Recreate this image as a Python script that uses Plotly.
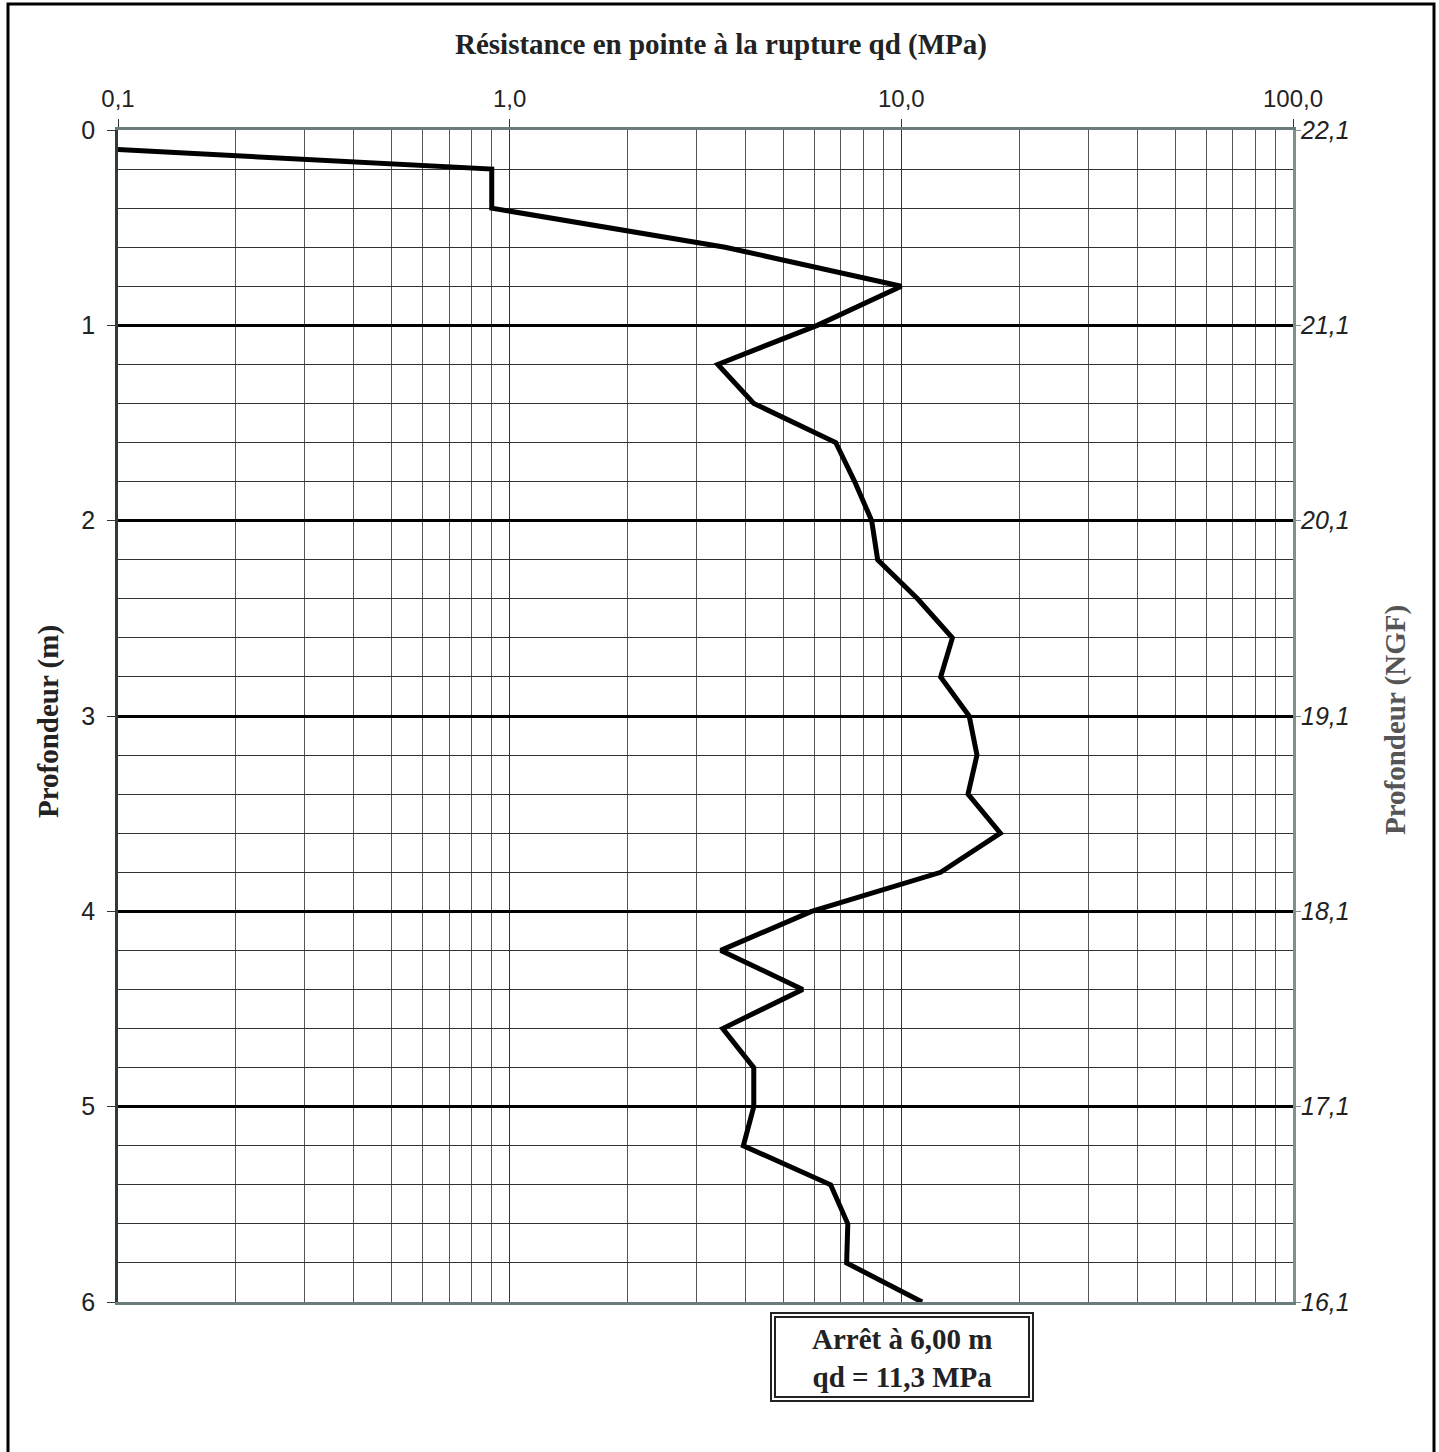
import plotly.graph_objects as go

# ---- data ----
depth_m = [0.1, 0.2, 0.4, 0.6, 0.8, 1.0, 1.2, 1.4, 1.6, 1.8, 2.0, 2.2, 2.4, 2.6, 2.8,
           3.0, 3.2, 3.4, 3.6, 3.8, 4.0, 4.2, 4.4, 4.6, 4.8, 5.0, 5.2, 5.4, 5.6, 5.8, 6.0]
qd_mpa = [0.1, 0.9, 0.9, 3.55, 10.0, 6.1, 3.4, 4.2, 6.8, 7.6, 8.4, 8.7, 11.0, 13.5, 12.6,
          14.9, 15.6, 14.8, 17.9, 12.6, 5.9, 3.46, 5.6, 3.5, 4.2, 4.2, 3.95, 6.6, 7.3, 7.25, 11.3]
x_tickvals = [0.1, 1, 10, 100]
x_ticktext = ["0,1", "1,0", "10,0", "100,0"]
y_tickvals = [0, 1, 2, 3, 4, 5, 6]
ngf_top = 22.1
ngf_tickvals = [22.1, 21.1, 20.1, 19.1, 18.1, 17.1, 16.1]
ngf_ticktext = ["22,1", "21,1", "20,1", "19,1", "18,1", "17,1", "16,1"]
ngf = [round(ngf_top - d, 2) for d in depth_m]

W, H = 1439, 1452
L, R, T, B = 118, 1293, 130, 1302

def px(xp):
    return (xp - L) / (R - L)

def py(yp):
    return (B - yp) / (B - T)

serif = "Liberation Serif, Times New Roman, serif"
sans = "Liberation Sans, Arial, sans-serif"

fig = go.Figure()
fig.add_trace(go.Scatter(x=qd_mpa, y=depth_m, mode="lines",
                         line=dict(color="black", width=5),
                         hoverinfo="skip", showlegend=False))
fig.add_trace(go.Scatter(x=qd_mpa, y=ngf, yaxis="y2", mode="lines",
                         line=dict(color="rgba(0,0,0,0)", width=0),
                         hoverinfo="skip", showlegend=False))

fig.update_layout(
    width=W, height=H,
    margin=dict(l=L, r=W - R, t=T, b=H - B),
    paper_bgcolor="white", plot_bgcolor="white",
    showlegend=False,
    xaxis=dict(
        type="log", side="top", range=[-1, 2],
        tickvals=x_tickvals, ticktext=x_ticktext,
        tickfont=dict(family=sans, size=24, color="#222"),
        ticks="outside", ticklen=8, tickcolor="#333", tickwidth=1,
        ticklabelstandoff=2,
        showgrid=True, gridcolor="#333", gridwidth=1,
        minor=dict(dtick="D1", showgrid=True, gridcolor="#555", gridwidth=1, ticks=""),
        showline=True, linecolor="#6b7b7b", linewidth=3, mirror=True,
        zeroline=False,
    ),
    yaxis=dict(
        range=[6, 0], tickvals=y_tickvals,
        ticktext=[str(v) for v in y_tickvals],
        tickfont=dict(family=sans, size=25, color="#222"),
        ticks="outside", ticklen=8, tickcolor="#333", tickwidth=1,
        ticklabelstandoff=7,
        showgrid=True, gridcolor="black", gridwidth=2.5,
        minor=dict(dtick=0.2, showgrid=True, gridcolor="#333", gridwidth=1, ticks=""),
        showline=True, linecolor="#2f3a3a", linewidth=2.5,
        zeroline=False,
    ),
    yaxis2=dict(
        overlaying="y", side="right", range=[16.1, 22.1],
        tickvals=ngf_tickvals, ticktext=ngf_ticktext,
        tickfont=dict(family=sans, size=25, color="#222", style="italic"),
        ticks="outside", ticklen=5, tickcolor="#7f8f8f", tickwidth=1,
        ticklabelstandoff=-5,
        showgrid=False, zeroline=False,
        showline=True, linecolor="#7f8f8f", linewidth=3,
    ),
)

annotations = [
    dict(text="<b>Résistance en pointe à la rupture qd (MPa)</b>",
         x=px(721), y=py(45), xref="paper", yref="paper", showarrow=False,
         xanchor="center", yanchor="middle",
         font=dict(family=serif, size=29, color="#222")),
    dict(text="<b>Profondeur (m)</b>", textangle=-90,
         x=px(48), y=py(722), xref="paper", yref="paper", showarrow=False,
         xanchor="center", yanchor="middle",
         font=dict(family=serif, size=29, color="#222")),
    dict(text="<b>Profondeur (NGF)</b>", textangle=-90,
         x=px(1395), y=py(720), xref="paper", yref="paper", showarrow=False,
         xanchor="center", yanchor="middle",
         font=dict(family=serif, size=29, color="#555")),
    dict(text="<b>Arrêt à 6,00 m<br>qd = 11,3 MPa</b>",
         x=px(902), y=py(1358), xref="paper", yref="paper", showarrow=False,
         xanchor="center", yanchor="middle",
         font=dict(family=serif, size=29, color="#222"), align="center"),
]
fig.update_layout(annotations=annotations)

shapes = [
    # page border
    dict(type="rect", xref="paper", yref="paper",
         x0=px(8), x1=px(1434), y0=py(1462), y1=py(4),
         line=dict(color="black", width=3), fillcolor="rgba(0,0,0,0)", layer="above"),
    # double box
    dict(type="rect", xref="paper", yref="paper",
         x0=px(771), x1=px(1033), y0=py(1401), y1=py(1313),
         line=dict(color="#222", width=2), fillcolor="white", layer="below"),
    dict(type="rect", xref="paper", yref="paper",
         x0=px(775), x1=px(1029), y0=py(1397), y1=py(1317),
         line=dict(color="#222", width=2), fillcolor="rgba(0,0,0,0)", layer="below"),
]
fig.update_layout(shapes=shapes)

fig.write_html("out.html", config={"displayModeBar": False},
               post_script="document.body.style.margin='0px';")
